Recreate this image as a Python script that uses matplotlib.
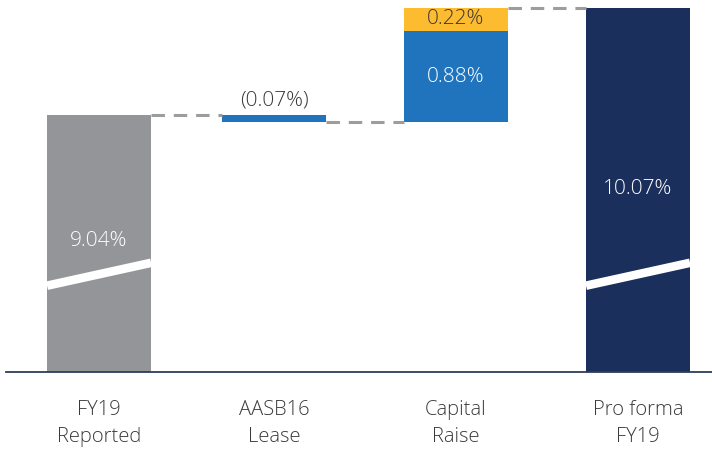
import matplotlib
matplotlib.use("Agg")
import numpy as np
import matplotlib.pyplot as plt

# waterfall data (%)
categories = ["FY19\nReported", "AASB16\nLease", "Capital\nRaise", "Pro forma\nFY19"]
fy19_reported = 9.04
aasb16_lease = -0.07
capital_raise = [0.88, 0.22]
pro_forma = 10.07
value_labels = ["9.04%", "(0.07%)", "0.88%", "0.22%", "10.07%"]

grey = "#939598"
blue = "#1F74BD"
yellow = "#FDBB30"
navy = "#1B2F5C"
txt = "#3A3A3A"

plt.rcParams['font.family'] = ['Open Sans', 'DejaVu Sans']

fig = plt.figure(figsize=(7.12, 4.49), dpi=100)
ax = fig.add_axes([6 / 712, 77 / 449, 706 / 712, 372 / 449])

# bar slots (slightly uneven spacing, as in the original)
x = np.array([0.0, 0.972, 1.983, 2.994])
w = 0.578
ymin = 6.57
fs = 15

# totals
ax.bar(x[0], fy19_reported - ymin, bottom=ymin, width=w, color=grey)
ax.bar(x[3], pro_forma - ymin, bottom=ymin, width=w, color=navy)

# lease step
lease_bot = fy19_reported + aasb16_lease
ax.bar(x[1], -aasb16_lease, bottom=lease_bot, width=w, color=blue)

# capital raise steps
ax.bar(x[2], capital_raise[0], bottom=lease_bot, width=w, color=blue)
ax.bar(x[2], capital_raise[1], bottom=lease_bot + capital_raise[0], width=w, color=yellow)

# connectors
levels = [fy19_reported, lease_bot, pro_forma]
for i, lv in enumerate(levels):
    ax.plot([x[i] + w / 2, x[i + 1] - w / 2], [lv, lv], color="#9D9D9D",
            lw=2.2, dashes=(4.4, 2.9), solid_capstyle="butt")

# axis break slashes
for xi in [x[0], x[3]]:
    ax.plot([xi - w / 2, xi + w / 2], [7.40, 7.62], color="white", lw=6.2,
            solid_capstyle="butt")

# labels
ax.text(x[0], 7.83, value_labels[0], ha="center", va="center", color="white",
        fontsize=fs, fontweight="light")
ax.text(x[1], 9.18, value_labels[1], ha="center", va="center", color=txt,
        fontsize=fs, fontweight="light")
ax.text(x[2], lease_bot + capital_raise[0] / 2, value_labels[2], ha="center", va="center",
        color="white", fontsize=fs, fontweight="light")
ax.text(x[2], lease_bot + capital_raise[0] + capital_raise[1] / 2, value_labels[3],
        ha="center", va="center", color=txt, fontsize=fs, fontweight="light")
ax.text(x[3], 8.33, value_labels[4], ha="center", va="center", color="white",
        fontsize=fs, fontweight="light")

ax.set_xlim(-0.517, 3.405)
ax.set_ylim(ymin, 10.147)
ax.set_xticks(x)
ax.set_xticklabels(categories, fontsize=14.5, color=txt, linespacing=1.5,
                   fontweight="light")
ax.tick_params(axis="x", length=0, pad=20)
ax.set_yticks([])
for s in ["top", "right", "left"]:
    ax.spines[s].set_visible(False)
ax.spines["bottom"].set_color("#2E3D5A")
ax.spines["bottom"].set_linewidth(1.3)

fig.savefig("out.png", dpi=100)
